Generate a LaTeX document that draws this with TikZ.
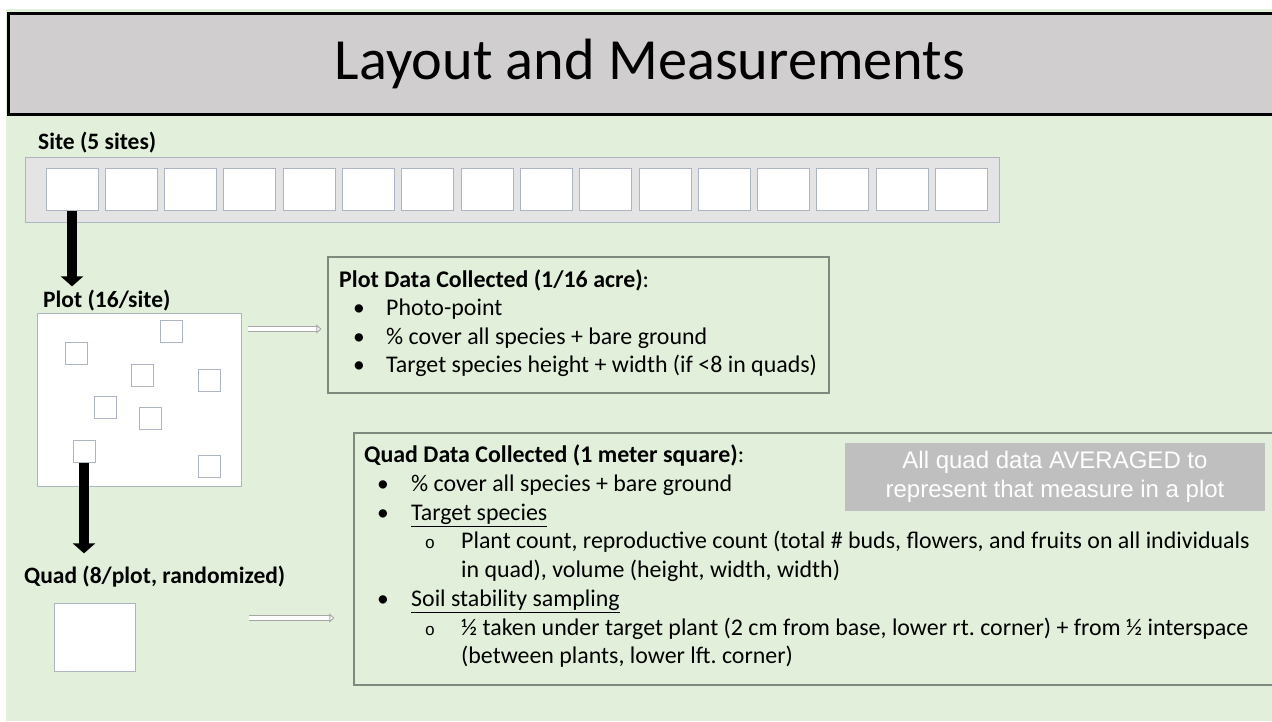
\documentclass[tikz,border=0pt]{standalone}
\usepackage{fontspec}
\setmainfont{Carlito}
\newfontfamily\arialfont{Liberation Sans}
\newfontfamily\ringfont{Liberation Mono}
\usetikzlibrary{arrows.meta,positioning}
\frenchspacing

\definecolor{bggreen}{HTML}{E2EFDA}
\definecolor{titlegray}{HTML}{D0CECE}
\definecolor{barfill}{HTML}{E4E4E4}
\definecolor{cellline}{HTML}{ADB5C2}
\definecolor{boxline}{HTML}{7F8A7F}
\definecolor{avggray}{HTML}{BFBFBF}

\tikzset{
  txt/.style={font=\fontsize{23.9}{28.5}\selectfont, inner sep=0, anchor=base west},
  lbl/.style={txt, font=\bfseries\fontsize{23.5}{28.5}\selectfont},
  dot/.style={font=\fontsize{23.5}{28.5}\selectfont, inner sep=0, anchor=base},
  ring/.style={font=\ringfont\fontsize{17}{20}\selectfont, inner sep=0, anchor=base},
  cell/.style={draw=cellline, line width=1pt, fill=white, inner sep=0},
  databox/.style={draw=boxline, line width=1.2pt, inner sep=0},
  bigarrow/.style={line width=10.5pt, -{Triangle[length=10pt, width=22pt]}},
  hollowarrow/.style={draw=gray!70, line width=0.9pt, double=white, double distance=4pt,
    -{Triangle[length=5pt, width=9pt, fill=white]}}
}

\begin{document}
\begin{tikzpicture}[x=1pt, y=-1pt]

\clip (0,0) rectangle (1272,721);
\fill[white] (0,0) rectangle (1272,721);
\fill[bggreen] (6,9) rectangle (1272,721);

% Title bar
\draw[line width=3pt, fill=titlegray] (8,13) rectangle (1285,114);
\node[font=\fontsize{58.3}{60}\selectfont, inner sep=0, anchor=base] (title) at (650,79) {Layout and Measurements};

% Sites
\node[lbl] (sitelbl) at (38,149) {Site (5 sites)};
\node[draw=cellline, line width=1pt, fill=barfill, minimum width=974, minimum height=65, inner sep=0] (site) at (512,189.5) {};
\foreach \i in {1,...,16}
  \node[cell, minimum width=52, minimum height=42] (s\i) at ({72+(\i-1)*59.3},189) {};

% Plot
\node[lbl] (plotlbl) at (43,307) {Plot (16/site)};
\node[cell, minimum width=204, minimum height=173] (plot) at (139,399.5) {};
\node[cell, minimum size=22] (q1) at (171.5,331.5) {};
\node[cell, minimum size=22] (q2) at (76.5,353.5) {};
\node[cell, minimum size=22] (q3) at (142,375) {};
\node[cell, minimum size=22] (q4) at (209,380) {};
\node[cell, minimum size=22] (q5) at (105,407.5) {};
\node[cell, minimum size=22] (q6) at (150,418) {};
\node[cell, minimum size=22] (q7) at (84,451.5) {};
\node[cell, minimum size=22] (q8) at (209,466) {};

% Quad
\node[lbl] (quadlbl) at (24,583) {Quad (8/plot, randomized)};
\node[cell, minimum width=81, minimum height=68] (quad) at (94.5,637) {};

% Down arrows
\coordinate (tip1) at (s1.south |- plotlbl.north);
\coordinate (tip2) at (q7.south |- quadlbl.north);
\draw[bigarrow] (s1.south) -- ([yshift=3pt]tip1);
\draw[bigarrow] (q7.south) -- ([yshift=12pt]tip2);

% Plot data
\node[databox, minimum width=501, minimum height=136] (pdata) at (578.5,325) {};
\node[txt] (phead) at (339,287) {\textbf{Plot Data Collected (1/16 acre)}:};
\node[dot] at (359,315.5) {•};
\node[txt] (p1) at (386,315.5) {Photo-point};
\node[dot] at (359,344) {•};
\node[txt] (p2) at (386,344) {\% cover all species + bare ground};
\node[dot] at (359,372.5) {•};
\node[txt] (p3) at (386,372.5) {Target species height + width (if <8 in quads)};

% Quad data
\node[databox, minimum width=936, minimum height=252] (qdata) at (822,559) {};
\node[fill=avggray, minimum width=420, minimum height=68, inner sep=0, align=center, text=white,
  font=\arialfont\fontsize{24}{29}\selectfont] (avg) at (1055,477)
  {All quad data AVERAGED to\\represent that measure in a plot};
\node[txt] (qhead) at (364,462.8) {\textbf{Quad Data Collected (1 meter square)}:};
\node[dot] at (383,491.5) {•};
\node[txt] (qa) at (411,491.5) {\% cover all species + bare ground};
\node[dot] at (383,520.2) {•};
\node[txt] (qb) at (411,520.2) {\underline{Target species}};
\node[ring] at (430,548.9) {o};
\node[txt] (qb1) at (461,548.9) {Plant count, reproductive count (total \# buds, flowers, and fruits on all individuals};
\node[txt] (qb2) at (461,577.6) {in quad), volume (height, width, width)};
\node[dot] at (383,606.3) {•};
\node[txt] (qc) at (411,606.3) {\underline{Soil stability sampling}};
\node[ring] at (430,635) {o};
\node[txt] (qc1) at (461,635) {½ taken under target plant (2 cm from base, lower rt. corner) + from ½ interspace};
\node[txt] (qc2) at (461,663.7) {(between plants, lower lft. corner)};

% Hollow arrows
\draw[hollowarrow] ([xshift=-79pt,yshift=-4pt]pdata.west) -- ([xshift=-6pt,yshift=-4pt]pdata.west);
\draw[hollowarrow] ([xshift=-104pt,yshift=-59pt]qdata.west) -- ([xshift=-19pt,yshift=-59pt]qdata.west);

\end{tikzpicture}
\end{document}
